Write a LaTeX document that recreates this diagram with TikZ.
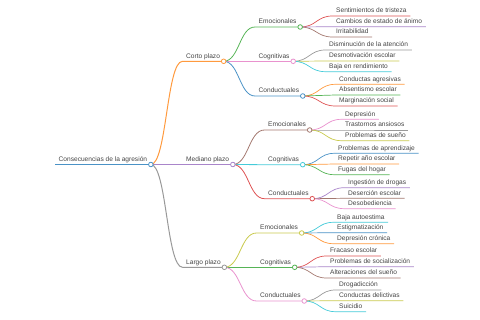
\documentclass[tikz,border=0pt]{standalone}
\usepackage{fontspec}
\setmainfont{Liberation Sans}
\usepackage{tikz}
\usetikzlibrary{calc}

\definecolor{txt}{HTML}{444444}
\definecolor{mmblue}{HTML}{4A92C6}
\definecolor{mmorange}{HTML}{FF9A3E}
\definecolor{mmgreen}{HTML}{56B456}
\definecolor{mmred}{HTML}{DE5253}
\definecolor{mmpurple}{HTML}{A985CA}
\definecolor{mmbrown}{HTML}{A3786F}
\definecolor{mmpink}{HTML}{E992CE}
\definecolor{mmgray}{HTML}{999999}
\definecolor{mmolive}{HTML}{C9CA4E}
\definecolor{mmcyan}{HTML}{45CBD9}

\tikzset{
  item/.style={anchor=south west, inner xsep=3.5pt, inner ysep=1pt, text depth=2pt,
    font=\fontsize{6.6}{8}\selectfont, text=txt},
  dot/.style={circle, draw, fill=white, inner sep=0pt, minimum size=4.6pt, line width=0.8pt},
}
% curve from the parent's dot to the child's underline
\newcommand{\mmlink}[4]{%
  \draw[#2, line width=#1] let \p1=(#3.south east), \p2=(#4.south west) in
    (\p1) .. controls ({(\x1+\x2)/2},\y1) and ({(\x1+\x2)/2},\y2) .. (\p2) -- (#4.south east);}

\begin{document}
\begin{tikzpicture}[x=1pt, y=-1pt]
  \useasboundingbox (0,0) rectangle (480,320);

  \node[item] (agr) at (55,164.5) {Consecuencias de la agresión};

  \node[item] (corto) at (182.5,61.3) {Corto plazo};
  \node[item] (mediano) at (182.5,164.5) {Mediano plazo};
  \node[item] (largo) at (182.5,267.3) {Largo plazo};

  \node[item] (cEmo) at (255,27) {Emocionales};
  \node[item] (cCog) at (255,61.3) {Cognitivas};
  \node[item] (cCond) at (255,96) {Conductuales};
  \node[item] (mEmo) at (264.5,130) {Emocionales};
  \node[item] (mCog) at (264.5,164.7) {Cognitivas};
  \node[item] (mCond) at (264.5,198.7) {Conductuales};
  \node[item] (lEmo) at (256.5,233) {Emocionales};
  \node[item] (lCog) at (256.5,267.3) {Cognitivas};
  \node[item] (lCond) at (256.5,301) {Conductuales};

  % corto plazo
  \node[item] (ce1) at (332.5,16) {Sentimientos de tristeza};
  \node[item] (ce2) at (332.5,26.7) {Cambios de estado de ánimo};
  \node[item] (ce3) at (332.5,37) {Irritabilidad};
  \node[item] (cc1) at (325.5,50) {Disminución de la atención};
  \node[item] (cc2) at (325.5,61) {Desmotivación escolar};
  \node[item] (cc3) at (325.5,71.7) {Baja en rendimiento};
  \node[item] (cd1) at (335.5,84.3) {Conductas agresivas};
  \node[item] (cd2) at (335.5,95) {Absentismo escolar};
  \node[item] (cd3) at (335.5,106) {Marginación social};
  % mediano plazo
  \node[item] (me1) at (341.5,119.3) {Depresión};
  \node[item] (me2) at (341.5,130) {Trastornos ansiosos};
  \node[item] (me3) at (341.5,140.7) {Problemas de sueño};
  \node[item] (mc1) at (334.5,153.3) {Problemas de aprendizaje};
  \node[item] (mc2) at (334.5,164) {Repetir año escolar};
  \node[item] (mc3) at (334.5,174.7) {Fugas del hogar};
  \node[item] (md1) at (344.5,187.7) {Ingestión de drogas};
  \node[item] (md2) at (344.5,198.3) {Deserción escolar};
  \node[item] (md3) at (344.5,208.7) {Desobediencia};
  % largo plazo
  \node[item] (le1) at (333.5,222.3) {Baja autoestima};
  \node[item] (le2) at (333.5,232.7) {Estigmatización};
  \node[item] (le3) at (333.5,243.7) {Depresión crónica};
  \node[item] (lc1) at (326.5,256) {Fracaso escolar};
  \node[item] (lc2) at (326.5,266.7) {Problemas de socialización};
  \node[item] (lc3) at (326.5,278) {Alteraciones del sueño};
  \node[item] (ld1) at (335.5,290) {Drogadicción};
  \node[item] (ld2) at (335.5,300.7) {Conductas delictivas};
  \node[item] (ld3) at (335.5,311.7) {Suicidio};

  \draw[mmblue, line width=1pt] (agr.south west) -- (agr.south east);
  \foreach \a/\b/\col in {agr/corto/mmorange, agr/mediano/mmpurple, agr/largo/mmgray}
    \mmlink{1pt}{\col}{\a}{\b};
  \foreach \a/\b/\col in {corto/cEmo/mmgreen, corto/cCog/mmpink, corto/cCond/mmblue,
      mediano/mEmo/mmbrown, mediano/mCog/mmcyan, mediano/mCond/mmred,
      largo/lEmo/mmolive, largo/lCog/mmgreen, largo/lCond/mmpink}
    \mmlink{0.8pt}{\col}{\a}{\b};
  \foreach \a/\b/\col in {cEmo/ce1/mmred, cEmo/ce2/mmpurple, cEmo/ce3/mmbrown,
      cCog/cc1/mmgray, cCog/cc2/mmolive, cCog/cc3/mmcyan,
      cCond/cd1/mmorange, cCond/cd2/mmgreen, cCond/cd3/mmred,
      mEmo/me1/mmpink, mEmo/me2/mmgray, mEmo/me3/mmolive,
      mCog/mc1/mmblue, mCog/mc2/mmorange, mCog/mc3/mmgreen,
      mCond/md1/mmpurple, mCond/md2/mmbrown, mCond/md3/mmpink,
      lEmo/le1/mmcyan, lEmo/le2/mmblue, lEmo/le3/mmorange,
      lCog/lc1/mmred, lCog/lc2/mmpurple, lCog/lc3/mmbrown,
      lCond/ld1/mmgray, lCond/ld2/mmolive, lCond/ld3/mmcyan}
    \mmlink{0.7pt}{\col}{\a}{\b};

  \foreach \n/\col in {agr/mmblue, corto/mmorange, mediano/mmpurple, largo/mmgray,
      cEmo/mmgreen, cCog/mmpink, cCond/mmblue, mEmo/mmbrown, mCog/mmcyan, mCond/mmred,
      lEmo/mmolive, lCog/mmgreen, lCond/mmpink}
    \node[dot, draw=\col] (\n-o) at (\n.south east) {};
\end{tikzpicture}
\end{document}
